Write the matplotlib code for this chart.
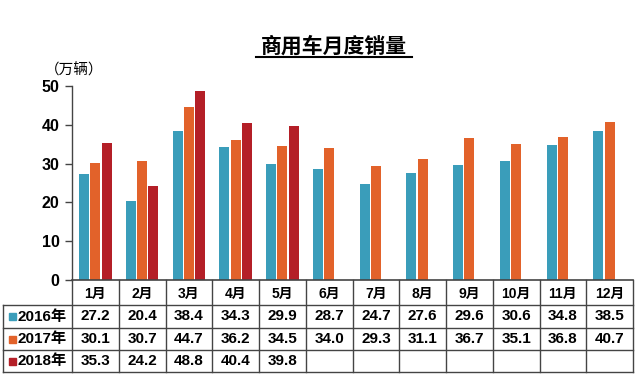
import numpy as np
import matplotlib
matplotlib.use("Agg")
import matplotlib.pyplot as plt
from matplotlib.patches import Rectangle

plt.rcParams['font.family'] = ['Liberation Sans', 'Noto Sans CJK SC']
plt.rcParams['font.weight'] = 'bold'

months = ["1月", "2月", "3月", "4月", "5月", "6月", "7月", "8月", "9月", "10月", "11月", "12月"]
series_names = ["2016年", "2017年", "2018年"]
sales_2016 = [27.2, 20.4, 38.4, 34.3, 29.9, 28.7, 24.7, 27.6, 29.6, 30.6, 34.8, 38.5]
sales_2017 = [30.1, 30.7, 44.7, 36.2, 34.5, 34.0, 29.3, 31.1, 36.7, 35.1, 36.8, 40.7]
sales_2018 = [35.3, 24.2, 48.8, 40.4, 39.8]
colors = ["#3a9dba", "#e2622a", "#b41f27"]

W, H = 640, 378
fig = plt.figure(figsize=(W / 100, H / 100), dpi=100)

# bar axes (pixel layout)
left, right, top, bottom = 72, 633, 86, 280
ax = fig.add_axes([left / W, 1 - bottom / H, (right - left) / W, (bottom - top) / H])
x = np.arange(len(months))
bw = 0.215
gap = 0.025
all_series = [sales_2016, sales_2017, sales_2018]
for i, vals in enumerate(all_series):
    xs = x[:len(vals)] + (i - 1) * (bw + gap)
    ax.bar(xs, vals, width=bw, color=colors[i], edgecolor="none")

ax.set_xlim(-0.5, 11.5)
ax.set_ylim(0, 50)
ax.set_yticks([0, 10, 20, 30, 40, 50])
ax.tick_params(axis="y", labelsize=11.5, length=5, width=1, color="#444444", pad=4)
for lab in ax.get_yticklabels():
    lab.set_fontweight("bold")
ax.set_xticks([])
for s in ["top", "right", "bottom"]:
    ax.spines[s].set_visible(False)
ax.spines["left"].set_color("#444444")
ax.spines["left"].set_linewidth(1)

fig.text(45 / W, 1 - 70 / H, "（万辆）", fontsize=10.5, fontweight="normal",
         family=['Noto Sans CJK SC'], va="center", ha="left")

# title with underline
fig.text(334 / W, 1 - 46 / H, "商用车月度销量", fontsize=15, fontweight="bold",
         family=['Noto Sans CJK SC'], ha="center", va="center")
fig.add_artist(plt.Line2D([256 / W, 412 / W], [1 - 57 / H, 1 - 57 / H], color="black", lw=1.5))

# table axes: same x scale as bar axes, y in pixel rows
tb_top, tb_bot = 280, 373
tax = fig.add_axes([left / W, 1 - tb_bot / H, (right - left) / W, (tb_bot - tb_top) / H])
tax.set_xlim(-0.5, 11.5)
tax.set_ylim(tb_bot, tb_top)
tax.axis("off")
row_edges = [280, 305, 328, 350, 372]
col_w_px = (right - left) / 12
label_left = -0.5 - (left - 3) / col_w_px
lc = "#444444"
lw = 1.0
# horizontal lines
tax.plot([-0.5, 11.5], [row_edges[0]] * 2, color=lc, lw=1.2, clip_on=False)
for yv in row_edges[1:]:
    tax.plot([label_left, 11.5], [yv] * 2, color=lc, lw=lw, clip_on=False)
# vertical lines
for k in range(13):
    tax.plot([k - 0.5, k - 0.5], [row_edges[0], row_edges[-1]], color=lc, lw=lw, clip_on=False)
tax.plot([label_left, label_left], [row_edges[1], row_edges[-1]], color=lc, lw=lw, clip_on=False)

for k, m in enumerate(months):
    tax.text(k, (row_edges[0] + row_edges[1]) / 2 + 1, m, ha="center", va="center",
             fontsize=10, fontweight="bold")
for r, (name, vals) in enumerate(zip(series_names, all_series)):
    yc = (row_edges[r + 1] + row_edges[r + 2]) / 2
    tax.add_patch(Rectangle((label_left + 0.12, yc - 3.5), 0.15, 7, color=colors[r], clip_on=False))
    tax.text(label_left + 0.3, yc, name, ha="left", va="center", fontsize=11, fontweight="bold")
    for k, v in enumerate(vals):
        tax.text(k, yc, f"{v:.1f}", ha="center", va="center", fontsize=11, fontweight="bold")

fig.savefig("out.png", dpi=100)
